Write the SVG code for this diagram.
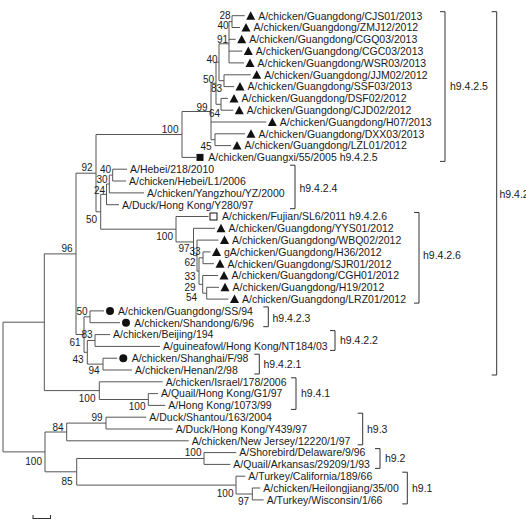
<svg xmlns="http://www.w3.org/2000/svg" width="526" height="524" viewBox="0 0 526 524">
<style>
.c{fill:none;stroke:#555;stroke-width:1}
.k{fill:none;stroke:#333;stroke-width:1}
text{font-family:"Liberation Sans",Arial,sans-serif;font-size:10.5px;fill:#1a1a1a}
.s{text-anchor:end;font-size:10px}
.m{fill:#111}
.h{fill:none;stroke:#111;stroke-width:1}
</style>
<defs>
<polygon id="tri" points="-4.5,4 4.5,4 0,-4.5"/>
</defs>
<rect width="526" height="524" fill="#fff"/>
<g id="connectors" class="c">
<path d="M3 322.2V451.9M3 322.2H44.3M3 451.9H45
M44.3 253.9V390.6M44.3 253.9H76M44.3 390.6H99.3
M76 173.2V334.5M76 173.2H96
M96 134.5V211.8M96 134.5H182M96 211.8H100.7
M182 111.5V157.4M182 111.5H211M182 157.4H196
M211 83.3V139.7M211 83.3H216M211 122H266.3M211 139.7H215
M215 133.8V145.6M215 133.8H245M215 145.6H231
M216 62.2V104.3M216 62.2H219M216 104.3H221
M219 43.75V80.7M219 43.75H229M219 80.7H224
M224 74.8V86.6M224 74.8H250.7M224 86.6H234
M221 98.4V110.2M221 98.4H228M221 110.2H233.3
M229 21.6V62.9M229 21.6H232M229 39.3H235.7M229 51.1H242.3M229 62.9H244
M232 15.7V27.5M232 15.7H244.7M232 27.5H240
M100.7 194.4V229.2M100.7 194.4H106.5M100.7 229.2H176
M106.5 184V204.7M106.5 184H109.3M106.5 204.7H119
M109.3 175.1V192.9M109.3 175.1H112.7M109.3 192.9H144
M112.7 169.2V181M112.7 169.2H127M112.7 181H126
M176 216.5V241.95M176 216.5H208.5M176 241.95H193.5
M193.5 228.3V255.6M193.5 228.3H215M193.5 255.6H197
M197 240.1V271.1M197 240.1H218.5M197 271.1H199
M199 257.8V284.35M199 257.8H203M199 284.35H202.7
M203 251.9V263.7M203 251.9H210.5M203 263.7H214
M202.7 275.5V293.2M202.7 275.5H218M202.7 293.2H206.7
M206.7 287.3V299.1M206.7 287.3H219M206.7 299.1H228.5
M76 334.5H84M84 316.8V352.3M84 316.8H90M84 352.3H87.3
M90 310.9V322.7M90 310.9H104M90 322.7H120
M87.3 340.5V364.1M87.3 340.5H95M87.3 364.1H103
M95 334.6V346.4M95 334.6H110M95 346.4H160
M103 358.2V370M103 358.2H117.3M103 370H132
M99.3 381.8V399.5M99.3 381.8H162.7M99.3 399.5H148.3
M148.3 393.6V405.4M148.3 393.6H158M148.3 405.4H165.3
M45 432V471.8M45 432H66.7M45 471.8H76.7
M66.7 423.1V440.8M66.7 423.1H106M66.7 440.8H188.7
M106 417.2V429M106 417.2H146.3M106 429H172.7
M76.7 458.5V485.1M76.7 458.5H204M76.7 485.1H236
M204 452.6V464.4M204 452.6H236.3M204 464.4H230.3
M236 476.2V494M236 476.2H245.3M236 494H252.3
M252.3 488V499.9M252.3 488H260.3M252.3 499.9H263.7"/>
</g>
<g id="leaves">
<g id="CJS01"><use href="#tri" class="m" x="250.7" y="15.7"/><text x="258.2" y="19.5">A/chicken/Guangdong/CJS01/2013</text></g>
<g id="ZMJ12"><use href="#tri" class="m" x="246" y="27.5"/><text x="253.5" y="31.3">A/chicken/Guangdong/ZMJ12/2012</text></g>
<g id="CGQ03"><use href="#tri" class="m" x="241.7" y="39.3"/><text x="249.2" y="43.1">A/chicken/Guangdong/CGQ03/2013</text></g>
<g id="CGC03"><use href="#tri" class="m" x="248.3" y="51.1"/><text x="255.8" y="54.9">A/chicken/Guangdong/CGC03/2013</text></g>
<g id="WSR03"><use href="#tri" class="m" x="250" y="62.9"/><text x="257.5" y="66.7">A/chicken/Guangdong/WSR03/2013</text></g>
<g id="JJM02"><use href="#tri" class="m" x="256.7" y="74.8"/><text x="264.2" y="78.6">A/chicken/Guangdong/JJM02/2012</text></g>
<g id="SSF03"><use href="#tri" class="m" x="240" y="86.6"/><text x="247.5" y="90.4">A/chicken/Guangdong/SSF03/2013</text></g>
<g id="DSF02"><use href="#tri" class="m" x="234" y="98.4"/><text x="241.5" y="102.2">A/chicken/Guangdong/DSF02/2012</text></g>
<g id="CJD02"><use href="#tri" class="m" x="239.3" y="110.2"/><text x="246.8" y="114">A/chicken/Guangdong/CJD02/2012</text></g>
<g id="H07"><use href="#tri" class="m" x="272.3" y="122"/><text x="279.8" y="125.8">A/chicken/Guangdong/H07/2013</text></g>
<g id="DXX03"><use href="#tri" class="m" x="251" y="133.8"/><text x="258.5" y="137.6">A/chicken/Guangdong/DXX03/2013</text></g>
<g id="LZL01"><use href="#tri" class="m" x="237" y="145.6"/><text x="244.5" y="149.4">A/chicken/Guangdong/LZL01/2012</text></g>
<g id="Guangxi55"><rect class="m" x="196.5" y="153.9" width="7" height="7"/><text x="208.3" y="161.2">A/chicken/Guangxi/55/2005 h9.4.2.5</text></g>
<g id="Hebei218"><text x="130" y="173">A/Hebei/218/2010</text></g>
<g id="HebeiL1"><text x="129" y="184.8">A/chicken/Hebei/L1/2006</text></g>
<g id="YangzhouYZ"><text x="147" y="196.7">A/chicken/Yangzhou/YZ/2000</text></g>
<g id="DuckY280"><text x="122" y="208.5">A/Duck/Hong Kong/Y280/97</text></g>
<g id="FujianSL6"><rect class="h" x="210" y="213" width="7" height="7"/><text x="222" y="220.3">A/chicken/Fujian/SL6/2011 h9.4.2.6</text></g>
<g id="YYS01"><use href="#tri" class="m" x="221" y="228.3"/><text x="228.5" y="232.1">A/chicken/Guangdong/YYS01/2012</text></g>
<g id="WBQ02"><use href="#tri" class="m" x="224.5" y="240.1"/><text x="232" y="243.9">A/chicken/Guangdong/WBQ02/2012</text></g>
<g id="H36"><use href="#tri" class="m" x="216.5" y="251.9"/><text x="224" y="255.7">gA/chicken/Guangdong/H36/2012</text></g>
<g id="SJR01"><use href="#tri" class="m" x="220" y="263.7"/><text x="227.5" y="267.5">A/chicken/Guangdong/SJR01/2012</text></g>
<g id="CGH01"><use href="#tri" class="m" x="224" y="275.5"/><text x="231.5" y="279.3">A/chicken/Guangdong/CGH01/2012</text></g>
<g id="H19"><use href="#tri" class="m" x="225" y="287.3"/><text x="232.5" y="291.1">A/chicken/Guangdong/H19/2012</text></g>
<g id="LRZ01"><use href="#tri" class="m" x="234.5" y="299.1"/><text x="242" y="302.9">A/chicken/Guangdong/LRZ01/2012</text></g>
<g id="GuangdongSS94"><circle class="m" cx="110" cy="310.9" r="4"/><text x="118" y="314.7">A/chicken/Guangdong/SS/94</text></g>
<g id="Shandong696"><circle class="m" cx="126" cy="322.7" r="4"/><text x="134.3" y="326.5">A/chicken/Shandong/6/96</text></g>
<g id="Beijing194"><text x="113" y="338.4">A/chicken/Beijing/194</text></g>
<g id="guineafowlNT184"><text x="163" y="350.2">A/guineafowl/Hong Kong/NT184/03</text></g>
<g id="ShanghaiF98"><circle class="m" cx="123.3" cy="358.2" r="4"/><text x="131.7" y="362">A/chicken/Shanghai/F/98</text></g>
<g id="Henan298"><text x="135" y="373.8">A/chicken/Henan/2/98</text></g>
<g id="Israel178"><text x="165.7" y="385.6">A/chicken/Israel/178/2006</text></g>
<g id="QuailG1"><text x="161" y="397.4">A/Quail/Hong Kong/G1/97</text></g>
<g id="HK1073"><text x="168.3" y="409.2">A/Hong Kong/1073/99</text></g>
<g id="Shantou163"><text x="149.3" y="421">A/Duck/Shantou/163/2004</text></g>
<g id="DuckY439"><text x="175.7" y="432.8">A/Duck/Hong Kong/Y439/97</text></g>
<g id="NewJersey"><text x="191.7" y="444.6">A/chicken/New Jersey/12220/1/97</text></g>
<g id="Shorebird"><text x="239.3" y="456.4">A/Shorebird/Delaware/9/96</text></g>
<g id="QuailArkansas"><text x="233.3" y="468.2">A/Quail/Arkansas/29209/1/93</text></g>
<g id="TurkeyCalifornia"><text x="248.3" y="480">A/Turkey/California/189/66</text></g>
<g id="Heilongjiang"><text x="263.3" y="491.8">A/chicken/Heilongjiang/35/00</text></g>
<g id="TurkeyWisconsin"><text x="266.7" y="503.7">A/Turkey/Wisconsin/1/66</text></g>
</g>
<g id="support-values">
<text class="s" x="230.5" y="18.8">28</text>
<text class="s" x="228.5" y="29.1">40</text>
<text class="s" x="228" y="42.6">91</text>
<text class="s" x="217.5" y="62.6">40</text>
<text class="s" x="214" y="82.6">50</text>
<text class="s" x="222" y="91.8">83</text>
<text class="s" x="207.5" y="110.6">99</text>
<text class="s" x="220" y="116.8">64</text>
<text class="s" x="211.5" y="149.8">45</text>
<text class="s" x="178.5" y="132.6">100</text>
<text class="s" x="92.5" y="170.6">92</text>
<text class="s" x="111" y="173.3">40</text>
<text class="s" x="107.5" y="182.9">30</text>
<text class="s" x="105" y="193.8">24</text>
<text class="s" x="97" y="222.8">50</text>
<text class="s" x="72.5" y="251.6">96</text>
<text class="s" x="173" y="240.3">100</text>
<text class="s" x="189.5" y="252.1">97</text>
<text class="s" x="200.5" y="255.3">33</text>
<text class="s" x="195.5" y="265.5">62</text>
<text class="s" x="195.5" y="280.2">33</text>
<text class="s" x="195.5" y="290.6">29</text>
<text class="s" x="197" y="301.1">54</text>
<text class="s" x="87.5" y="315.3">50</text>
<text class="s" x="92.5" y="337.9">83</text>
<text class="s" x="80.5" y="345.5">61</text>
<text class="s" x="83.5" y="363.1">43</text>
<text class="s" x="99.5" y="373.8">94</text>
<text class="s" x="95.5" y="401.8">100</text>
<text class="s" x="145.5" y="409.8">100</text>
<text class="s" x="102.5" y="421.1">99</text>
<text class="s" x="63.5" y="430.6">84</text>
<text class="s" x="42" y="464.5">100</text>
<text class="s" x="201.5" y="456.3">100</text>
<text class="s" x="72.5" y="484.5">85</text>
<text class="s" x="233.5" y="496.8">100</text>
<text class="s" x="249" y="504.5">97</text>
</g>
<g id="clade-brackets">
<path class="k" d="M440 11.7H445V161.4H440
M290 165.2H295V208.7H290
M414 212.5H419V303.1H414
M263.3 306.9H268.3V326.7H263.3
M330 330.6H335V350.4H330
M254.3 354.2H259.3V374H254.3
M491.7 11.7H496.7V375H491.7
M291 377.8H296V409.4H291
M357.7 413.2H362.7V444.8H357.7
M375 448.6H380V468.4H375
M402.3 472.2H407.3V503.9H402.3"/>
<text x="450" y="90.3">h9.4.2.5</text>
<text x="299.5" y="191.8">h9.4.2.4</text>
<text x="423" y="258.8">h9.4.2.6</text>
<text x="272.5" y="321.8">h9.4.2.3</text>
<text x="340" y="343.8">h9.4.2.2</text>
<text x="263.5" y="367.8">h9.4.2.1</text>
<text x="499.5" y="197.8">h9.4.2</text>
<text x="301" y="396.8">h9.4.1</text>
<text x="367" y="432.8">h9.3</text>
<text x="385" y="461.8">h9.2</text>
<text x="412" y="491.8">h9.1</text>
</g>
<g id="scale-bar">
<path class="k" d="M33 515V519M33 518.5H50.5M50.5 515V519"/>
</g>
</svg>
